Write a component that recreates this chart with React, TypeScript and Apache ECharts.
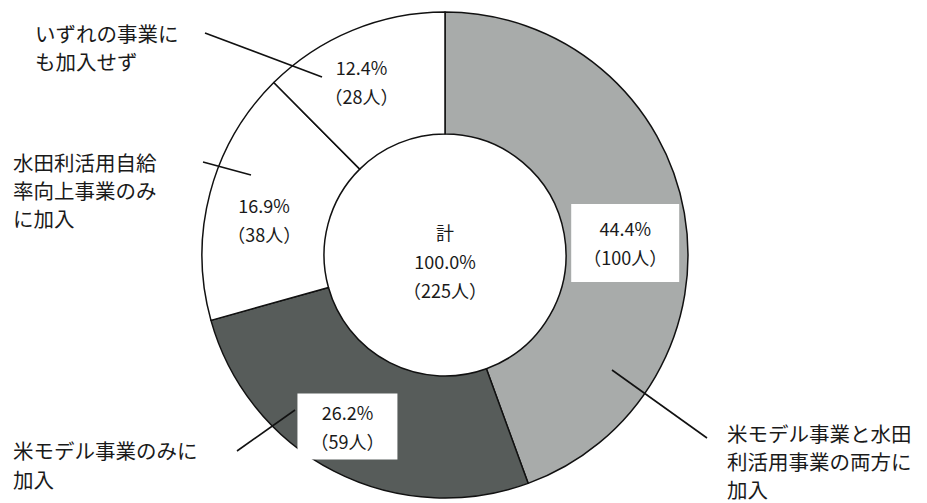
import React, { useEffect, useRef } from "react";
import * as echarts from "echarts";

// Participation breakdown, 225 respondents
const categories = [
  "米モデル事業と水田\n利活用事業の両方に\n加入",
  "米モデル事業のみに\n加入",
  "水田利活用自給\n率向上事業のみ\nに加入",
  "いずれの事業に\nも加入せず",
];
const counts = [100, 59, 38, 28];
const percents = [44.4, 26.2, 16.9, 12.4];
const total = 225;
const totalPercent = 100.0;

const sliceColors = ["#a8abaa", "#575c5a", "#ffffff", "#ffffff"];

const JP = '"Noto Sans CJK JP", "Noto Sans", sans-serif';

export default function App() {
  const ref = useRef<HTMLDivElement>(null);

  useEffect(() => {
    if (!ref.current) return;
    const chart = echarts.init(ref.current, undefined, { renderer: "svg" });

    const cx = 445;
    const cy = 255;

    // nudges for the in-ring value labels
    const labelShift = [
      { dx: -2, dy: 20 },
      { dx: -13, dy: 7 },
      { dx: -2, dy: 12 },
      { dx: -13, dy: -2 },
    ];
    const boxed = [
      { backgroundColor: "#ffffff", padding: [10, 12] },
      { backgroundColor: "#ffffff", padding: [4, 13] },
      {},
      {},
    ];

    // category callouts: text block + leader line
    const callouts = [
      { x: 727, y: 419, lh: 28, line: [612, 370, 707, 438] },
      { x: 13, y: 435, lh: 29, line: [237, 451, 295, 410] },
      { x: 13, y: 148, lh: 28, line: [203, 162, 251, 175] },
      { x: 35, y: 19, lh: 28, line: [205, 33, 322, 77] },
    ];

    const graphics: any[] = [];
    callouts.forEach((c, i) => {
      graphics.push({
        type: "line",
        z: 10,
        shape: { x1: c.line[0], y1: c.line[1], x2: c.line[2], y2: c.line[3] },
        style: { stroke: "#111", lineWidth: 1.6 },
      });
      graphics.push({
        type: "text",
        z: 10,
        x: c.x,
        y: c.y,
        style: {
          text: categories[i],
          font: `20.5px ${JP}`,
          lineHeight: c.lh,
          fill: "#1a1a1a",
          textAlign: "left",
          textVerticalAlign: "top",
        },
      });
    });
    graphics.push({
      type: "text",
      z: 10,
      x: cx,
      y: 261,
      style: {
        text: `計\n${totalPercent.toFixed(1)}%\n（${total}人）`,
        font: `18px ${JP}`,
        lineHeight: 29,
        fill: "#1a1a1a",
        textAlign: "center",
        textVerticalAlign: "middle",
      },
    });

    chart.setOption({
      animation: false,
      backgroundColor: "#ffffff",
      series: [
        {
          type: "pie",
          center: [cx, cy],
          radius: [121, 243],
          startAngle: 90,
          clockwise: true,
          silent: true,
          label: {
            show: true,
            position: "inside",
            fontFamily: JP,
            fontSize: 18,
            lineHeight: 29,
            color: "#1a1a1a",
            align: "center",
            formatter: (p: any) =>
              `${percents[p.dataIndex].toFixed(1)}%\n（${counts[p.dataIndex]}人）`,
          },
          labelLine: { show: false },
          labelLayout: (p: any) => labelShift[p.dataIndex],
          itemStyle: { borderColor: "#111", borderWidth: 1.5 },
          data: counts.map((v, i) => ({
            value: v,
            name: categories[i],
            itemStyle: { color: sliceColors[i] },
            label: boxed[i],
          })),
        },
      ],
      graphic: graphics,
    });

    return () => chart.dispose();
  }, []);

  return (
    <div
      ref={ref}
      style={{ position: "absolute", left: 0, top: 0, width: 927, height: 503 }}
    />
  );
}
